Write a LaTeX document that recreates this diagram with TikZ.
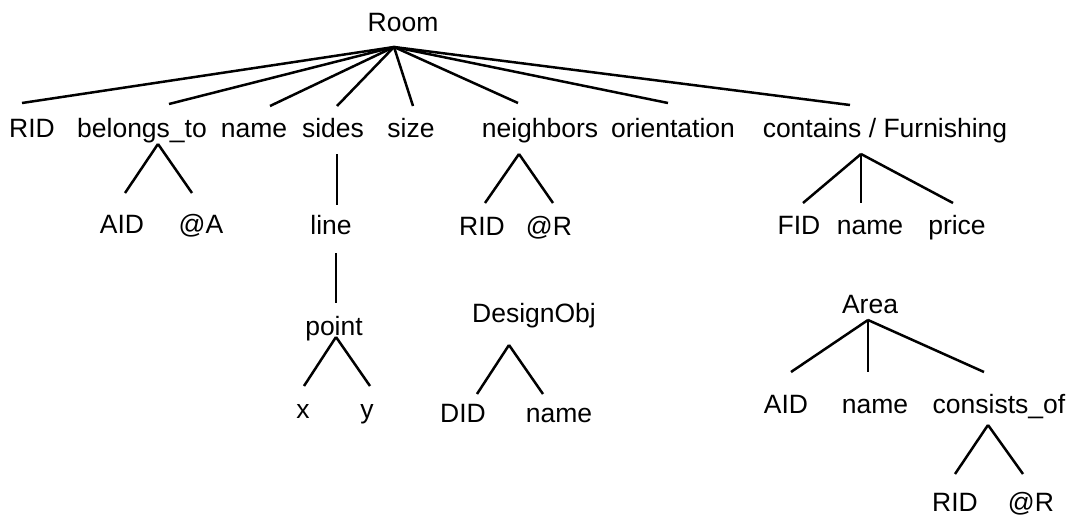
\documentclass[tikz,border=0pt]{standalone}
\usepackage{fontspec}
\setmainfont{Liberation Sans}
\begin{document}
\begin{tikzpicture}[x=1pt,y=-1pt,
  lbl/.style={anchor=base,inner sep=0pt,font=\fontsize{26.5}{30}\selectfont},
  edge/.style={line width=2.5pt,line cap=butt}]
\useasboundingbox (0,0) rectangle (1073,517);

% ---- labels ----
\node[lbl] (room) at (403,31) {Room};

\node[lbl] (rid1)   at (32,137)  {RID};
\node[lbl] (belong) at (142,137) {belongs\_to};
\node[lbl] (name1)  at (254,137) {name};
\node[lbl] (sides)  at (333,137) {sides};
\node[lbl] (size)   at (411,137) {size};
\node[lbl] (neigh)  at (540,137) {neighbors};
\node[lbl] (orient) at (673,137) {orientation};
\node[lbl] (cont)   at (885,137) {contains / Furnishing};

\node[lbl] (aid1)  at (122,233) {AID};
\node[lbl] (ata)   at (201,233) {@A};
\node[lbl] (line)  at (331,234) {line};
\node[lbl] (rid2)  at (482,235) {RID};
\node[lbl] (atr1)  at (549,235) {@R};
\node[lbl] (fid)   at (799,234) {FID};
\node[lbl] (name2) at (870,234) {name};
\node[lbl] (price) at (957,234) {price};

\node[lbl] (point) at (334,335) {point};
\node[lbl] (xx)    at (303,418) {x};
\node[lbl] (yy)    at (367,418) {y};

\node[lbl] (dobj)  at (534,322) {DesignObj};
\node[lbl] (did)   at (463,422) {DID};
\node[lbl] (name3) at (559,422) {name};

\node[lbl] (area)  at (870,313) {Area};
\node[lbl] (aid2)  at (786,413) {AID};
\node[lbl] (name4) at (875,413) {name};
\node[lbl] (cons)  at (999,413) {consists\_of};
\node[lbl] (rid3)  at (955,511) {RID};
\node[lbl] (atr2)  at (1031,511) {@R};

% ---- branch points ----
\coordinate (room-j)   at (394,47);
\coordinate (rid1-t)   at (22,103);
\coordinate (belong-t) at (169,104);
\coordinate (name1-t)  at (270,106);
\coordinate (sides-t)  at (337,106);
\coordinate (size-t)   at (413,106);
\coordinate (neigh-t)  at (518,103);
\coordinate (orient-t) at (668,103);
\coordinate (cont-t)   at (850,105);

\coordinate (belong-j) at (158,144);
\coordinate (aid1-t)   at (125,193);
\coordinate (ata-t)    at (192,193);

\coordinate (sides-j)  at (337,154);
\coordinate (line-t)   at (337,205);

\coordinate (neigh-j)  at (519,154);
\coordinate (rid2-t)   at (485,203);
\coordinate (atr1-t)   at (553,203);

\coordinate (cont-j)   at (861,154);
\coordinate (fid-t)    at (803,203);
\coordinate (name2-t)  at (861,203);
\coordinate (price-t)  at (953,203);

\coordinate (line-j)   at (336,253);
\coordinate (point-t)  at (336,303);

\coordinate (point-j)  at (336,337);
\coordinate (xx-t)     at (304,386);
\coordinate (yy-t)     at (370,386);

\coordinate (dobj-j)   at (509,345);
\coordinate (did-t)    at (477,394);
\coordinate (name3-t)  at (543,394);

\coordinate (area-j)   at (868,320);
\coordinate (aid2-t)   at (791,372);
\coordinate (name4-t)  at (868,372);
\coordinate (cons-t)   at (984,372);

\coordinate (cons-j)   at (988,425);
\coordinate (rid3-t)   at (955,474);
\coordinate (atr2-t)   at (1023,474);

% ---- edges ----
\foreach \c in {rid1,belong,name1,sides,size,neigh,orient,cont}
  \draw[edge] (room-j) -- (\c-t);
\foreach \c in {aid1,ata}  \draw[edge] (belong-j) -- (\c-t);
\draw[edge] (sides-j) -- (line-t);
\foreach \c in {rid2,atr1} \draw[edge] (neigh-j) -- (\c-t);
\foreach \c in {fid,name2,price} \draw[edge] (cont-j) -- (\c-t);
\draw[edge] (line-j) -- (point-t);
\foreach \c in {xx,yy} \draw[edge] (point-j) -- (\c-t);
\foreach \c in {did,name3} \draw[edge] (dobj-j) -- (\c-t);
\foreach \c in {aid2,name4,cons} \draw[edge] (area-j) -- (\c-t);
\foreach \c in {rid3,atr2} \draw[edge] (cons-j) -- (\c-t);
\end{tikzpicture}
\end{document}
